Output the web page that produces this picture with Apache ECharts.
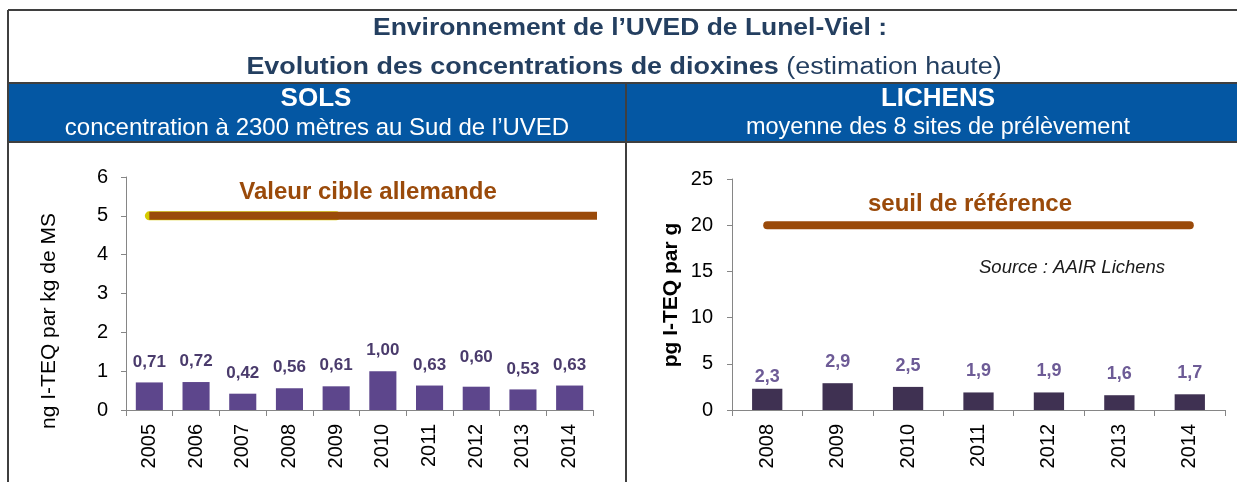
<!DOCTYPE html>
<html>
<head>
<meta charset="utf-8">
<script src="https://cdn.jsdelivr.net/npm/echarts@6/dist/echarts.min.js"></script>
<style>
html,body{margin:0;padding:0;background:#fff;}
#chart{width:1237px;height:482px;}
</style>
</head>
<body>
<div id="chart"></div>
<script>
// ---- data ----
const solsYears = ['2005','2006','2007','2008','2009','2010','2011','2012','2013','2014'];
const solsValues = [0.71,0.72,0.42,0.56,0.61,1.00,0.63,0.60,0.53,0.63];
const solsTarget = 5;
const solsTargetSpan = [0.5, 10.15];   // in category units
const solsTargetShadeSpan = [0.5, 4.5];
const lichensYears = ['2008','2009','2010','2011','2012','2013','2014'];
const lichensValues = [2.3,2.9,2.5,1.9,1.9,1.6,1.7];
const lichensThreshold = 20;
const lichensThresholdSpan = [0.5, 6.5];

const titleLine1 = 'Environnement de l\u2019UVED de Lunel-Viel :';
const titleLine2Bold = 'Evolution des concentrations de dioxines';
const titleLine2Rest = ' (estimation haute)';
const solsHead = 'SOLS';
const solsSub = 'concentration \u00e0 2300 m\u00e8tres au Sud de l\u2019UVED';
const lichHead = 'LICHENS';
const lichSub = 'moyenne des 8 sites de pr\u00e9l\u00e8vement';
const solsAxisName = 'ng I-TEQ par kg de MS';
const lichAxisName = 'pg I-TEQ par g';
const solsRefLabel = 'Valeur cible allemande';
const lichRefLabel = 'seuil de r\u00e9f\u00e9rence';
const sourceLabel = 'Source : AAIR Lichens';

// ---- styles ----
const FONT = '"Liberation Sans", Arial, sans-serif';
const BROWN = '#9A4A0A';
const AXIS = '#868686';
const FRAME = '#3f3f3f';
const BAND = '#0457A3';
const NAVY = '#243F60';

const chart = echarts.init(document.getElementById('chart'), null, {renderer:'canvas', width:1237, height:482});

function catAxis(grid, data){
  return {
    type:'category', gridIndex:grid, data:data,
    axisLine:{lineStyle:{color:AXIS, width:1}},
    axisTick:{show:true, length:6, lineStyle:{color:AXIS}},
    axisLabel:{rotate:90, margin:14, color:'#000', fontFamily:FONT, fontSize:20}
  };
}
function valAxis(grid, max, interval, margin){
  return {
    type:'value', gridIndex:grid, min:0, max:max, interval:interval,
    splitLine:{show:false},
    axisLine:{show:true, lineStyle:{color:AXIS, width:1}},
    axisTick:{show:true, length:5, lineStyle:{color:AXIS}},
    axisLabel:{margin:margin, color:'#000', fontFamily:FONT, fontSize:20}
  };
}

const solsData = solsValues.map((v,i)=> i===7 ? {value:v, label:{distance:21}} : v);
const lichData = lichensValues.map((v,i)=> i===0 ? {value:v, label:{distance:3}} : v);

const option = {
  animation:false,
  backgroundColor:'#fff',
  grid:[
    {left:126, top:177, width:467, height:233},
    {left:732, top:179, width:493, height:231}
  ],
  xAxis:[
    catAxis(0, solsYears),
    catAxis(1, lichensYears),
    {type:'value', gridIndex:0, min:0, max:solsYears.length, show:false},
    {type:'value', gridIndex:1, min:0, max:lichensYears.length, show:false}
  ],
  yAxis:[
    valAxis(0, 6, 1, 18),
    valAxis(1, 25, 5, 19)
  ],
  series:[
    {
      type:'bar', xAxisIndex:0, yAxisIndex:0, data:solsData, barWidth:'58%',
      itemStyle:{color:'#5D468C'},
      label:{show:true, position:'top', distance:12, color:'#4A3B6C', fontFamily:FONT, fontWeight:'bold', fontSize:17,
        formatter:p=>p.value.toFixed(2).replace('.', ',')}
    },
    {
      type:'bar', xAxisIndex:1, yAxisIndex:1, data:lichData, barWidth:'43%',
      itemStyle:{color:'#3F3152'},
      label:{show:true, position:'top', distance:12, color:'#6D5B96', fontFamily:FONT, fontWeight:'bold', fontSize:18,
        formatter:p=>p.value.toFixed(1).replace('.', ',')}
    },
    {
      type:'line', xAxisIndex:2, yAxisIndex:0, clip:false, symbol:'none', silent:true, z:3,
      data:solsTargetShadeSpan.map(x=>[x, solsTarget]),
      lineStyle:{color:'#D6CB00', width:9, cap:'round'}
    },
    {
      type:'line', xAxisIndex:2, yAxisIndex:0, clip:false, symbol:'none', silent:true, z:4,
      data:solsTargetSpan.map(x=>[x, solsTarget]),
      lineStyle:{color:BROWN, width:8, cap:'butt'}
    },
    {
      type:'line', xAxisIndex:3, yAxisIndex:1, clip:false, symbol:'none', silent:true, z:4,
      data:lichensThresholdSpan.map(x=>[x, lichensThreshold]),
      lineStyle:{color:BROWN, width:8, cap:'round'}
    }
  ],
  graphic:[
    // frame
    {type:'rect', shape:{x:8, y:84, width:1229, height:57}, style:{fill:BAND}, silent:true},
    {type:'line', shape:{x1:8, y1:10, x2:1237, y2:10}, style:{stroke:FRAME, lineWidth:2}},
    {type:'line', shape:{x1:8, y1:10, x2:8, y2:482}, style:{stroke:FRAME, lineWidth:2}},
    {type:'line', shape:{x1:8, y1:83, x2:1237, y2:83}, style:{stroke:FRAME, lineWidth:2}},
    {type:'line', shape:{x1:8, y1:142, x2:1237, y2:142}, style:{stroke:FRAME, lineWidth:2}},
    {type:'line', shape:{x1:626, y1:84, x2:626, y2:482}, style:{stroke:FRAME, lineWidth:2}},
    // titles
    {type:'text', x:630, y:29, scaleX:1.15, style:{text:titleLine1, x:0, y:0, align:'center', verticalAlign:'middle',
      fill:NAVY, font:'bold 23px '+FONT}},
    {type:'text', x:624, y:68, scaleX:1.17, style:{text:'{b|'+titleLine2Bold+'}{n|'+titleLine2Rest+'}', x:0, y:0,
      align:'center', verticalAlign:'middle',
      rich:{b:{fill:NAVY, fontFamily:FONT, fontWeight:'bold', fontSize:23},
            n:{fill:NAVY, fontFamily:FONT, fontWeight:'normal', fontSize:23}}}},
    {type:'text', x:316, y:99, style:{text:solsHead, align:'center', verticalAlign:'middle', fill:'#fff', font:'bold 26px '+FONT}},
    {type:'text', x:317, y:128, style:{text:solsSub, align:'center', verticalAlign:'middle', fill:'#fff', font:'24px '+FONT}},
    {type:'text', x:938, y:99, style:{text:lichHead, align:'center', verticalAlign:'middle', fill:'#fff', font:'bold 26px '+FONT}},
    {type:'text', x:938, y:128, style:{text:lichSub, align:'center', verticalAlign:'middle', fill:'#fff', font:'23.5px '+FONT}},
    // axis names
    {type:'text', x:49, y:321, rotation:Math.PI/2, style:{text:solsAxisName, align:'center', verticalAlign:'middle', fill:'#000', font:'21px '+FONT}},
    {type:'text', x:671, y:295, rotation:Math.PI/2, style:{text:lichAxisName, align:'center', verticalAlign:'middle', fill:'#000', font:'bold 21px '+FONT}},
    // annotations
    {type:'text', x:368, y:192, style:{text:solsRefLabel, align:'center', verticalAlign:'middle', fill:BROWN, font:'bold 24px '+FONT}},
    {type:'text', x:970, y:204, style:{text:lichRefLabel, align:'center', verticalAlign:'middle', fill:BROWN, font:'bold 24px '+FONT}},
    {type:'text', x:979, y:268, style:{text:sourceLabel, align:'left', verticalAlign:'middle', fill:'#1a1a1a', font:'italic 18.5px '+FONT}}
  ]
};
chart.setOption(option);
</script>
</body>
</html>
